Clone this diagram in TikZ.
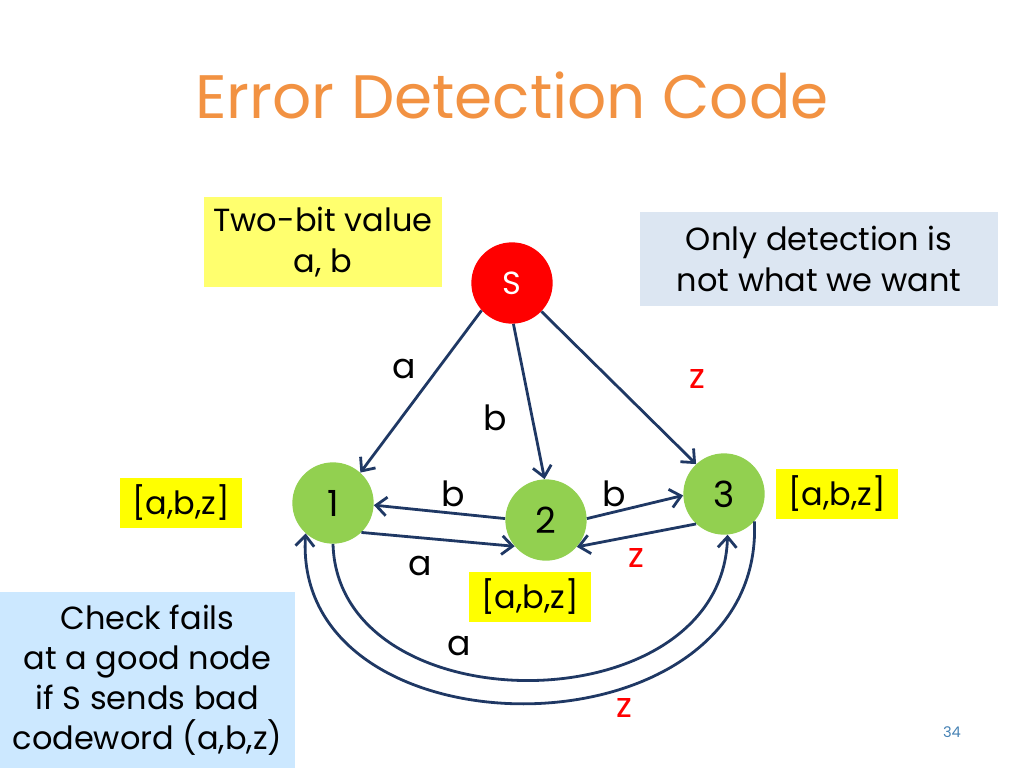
\documentclass[tikz,border=0pt]{standalone}
\usepackage{fontspec}
\setmainfont{Poppins}
\usetikzlibrary{arrows.meta,positioning}

\definecolor{titleorange}{RGB}{242,146,66}
\definecolor{edgeblue}{RGB}{31,56,100}
\definecolor{goodgreen}{RGB}{146,208,80}
\definecolor{srcred}{RGB}{255,0,0}
\definecolor{zred}{RGB}{255,0,0}
\definecolor{listyellow}{RGB}{255,255,0}
\definecolor{paleyellow}{RGB}{255,255,110}
\definecolor{notegray}{RGB}{220,230,242}
\definecolor{noteblue}{RGB}{204,232,255}
\definecolor{pagenum}{RGB}{70,130,180}

\tikzset{
  good/.style={circle,fill=goodgreen,minimum size=61pt,inner sep=0pt,font=\fontsize{27}{32}\selectfont},
  src/.style={circle,fill=srcred,text=white,minimum size=61pt,inner sep=0pt,font=\fontsize{24}{29}\selectfont},
  lst/.style={fill=listyellow,minimum width=91.5pt,minimum height=38pt,inner sep=0pt,font=\fontsize{24}{29}\selectfont},
  note/.style={align=center,inner sep=0pt,font=\fontsize{24}{31}\selectfont},
  edge/.style={draw=edgeblue,line width=2.1pt,-{Straight Barb[length=8pt,width=14pt]}},
  lbl/.style={inner sep=0pt,font=\fontsize{26}{31}\selectfont},
  zlbl/.style={lbl,text=zred},
}

\begin{document}
\begin{tikzpicture}[x=0.75pt,y=0.75pt,yscale=-1,xscale=1]
\useasboundingbox (0,0) rectangle (1024,768);

% title
\node[anchor=base,inner sep=0pt,text=titleorange,font=\fontsize{46}{55}\selectfont] (title) at (512,118) {Error Detection Code};

% notes
\node[note,fill=paleyellow,minimum width=178pt,minimum height=68pt] (twobit) at (323,242) {Two-bit value\\a, b};
\node[note,fill=notegray,minimum width=268.5pt,minimum height=70pt] (onlydet) at (819,259) {Only detection is\\not what we want};
\node[note,fill=noteblue,minimum width=221pt,minimum height=132pt,font=\fontsize{24}{30}\selectfont] (checkfail) at (147.5,680) {Check fails\\at a good node\\if S sends bad\\codeword (a,b,z)};

% nodes
\node[src] (s) at (512,283) {S};
\node[good] (n1) at (333,503) {1};
\node[good] (n2) at (546,520) {2};
\node[good] (n3) at (724,494) {3};

% lists
\node[lst] (list1) at (181,503) {[a,b,z]};
\node[lst] (list2) at (530,597) {[a,b,z]};
\node[lst] (list3) at (837,494) {[a,b,z]};

% edges from S
\draw[edge] (s.-138) -- (n1.48);
\draw[edge] (s.-88) -- (n2.92);
\draw[edge] (s.-44) -- (n3.133);

% edges between good nodes
\draw[edge] (n2.178) -- (n1.-3);
\draw[edge] (n1.-46) -- (n2.-140);
\draw[edge] (n2.2) -- (n3.182);
\draw[edge] (n3.-133) -- (n2.-41);
\draw[edge] (n1.-90) .. controls (338,727) and (722,727) .. (n3.-85);
\draw[edge] (n3.-42) .. controls (765,762) and (292,762) .. (n1.-132);

% edge labels
\node[lbl] (la) at (404,369) {a};
\node[lbl] (lb) at (495,418) {b};
\node[zlbl] (lz) at (697,379) {z};
\node[lbl] (lb21) at (453,494) {b};
\node[lbl] (lb23) at (614,494) {b};
\node[lbl] (la12) at (420,566) {a};
\node[zlbl] (lz32) at (636,558) {z};
\node[lbl] (la13) at (459,646) {a};
\node[zlbl] (lz31) at (624,708) {z};

% page number
\node[inner sep=0pt,text=pagenum,font=\fontsize{11}{13}\selectfont] (page) at (952,732) {34};

\end{tikzpicture}
\end{document}
